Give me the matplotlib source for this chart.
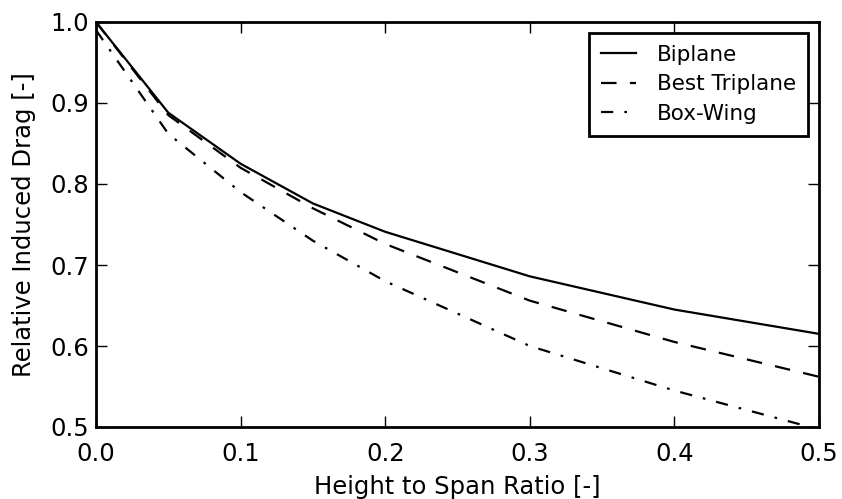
import matplotlib; matplotlib.use("Agg")
import matplotlib.pyplot as plt

ratio = [0.0, 0.05, 0.1, 0.15, 0.2, 0.3, 0.4, 0.5]
biplane = [1.0, 0.888, 0.825, 0.776, 0.741, 0.686, 0.645, 0.615]
triplane = [1.0, 0.885, 0.820, 0.770, 0.726, 0.656, 0.605, 0.562]
boxwing = [0.99, 0.862, 0.790, 0.730, 0.680, 0.600, 0.545, 0.497]

plt.rcParams["font.family"] = ["DejaVu Sans"]
fig = plt.figure(figsize=(8.42, 4.99), dpi=100)
ax = fig.add_axes([96/842, 1 - 427/499, (819-96)/842, (427-22)/499])

ax.plot(ratio, biplane, "k-", lw=1.6, label="Biplane")
ax.plot(ratio, triplane, "k--", lw=1.6, label="Best Triplane", dashes=(7, 6))
ax.plot(ratio, boxwing, "k-.", lw=1.6, label="Box-Wing", dashes=(5.5, 5, 1.2, 5))

ax.set_xlim(0, 0.5)
ax.set_ylim(0.5, 1.0)
ax.set_xticks([0.0, 0.1, 0.2, 0.3, 0.4, 0.5])
ax.set_yticks([0.5, 0.6, 0.7, 0.8, 0.9, 1.0])
ax.tick_params(direction="in", top=True, right=True, length=8, width=1, labelsize=17.5)
ax.tick_params(axis="x", pad=11)
ax.tick_params(axis="y", pad=5)
for s in ax.spines.values():
    s.set_linewidth(2)
ax.set_xlabel("Height to Span Ratio [-]", fontsize=17.5, labelpad=6)
ax.set_ylabel("Relative Induced Drag [-]", fontsize=17.5, labelpad=10)

leg = ax.legend(loc="upper right", fontsize=15.5, fancybox=False, framealpha=1,
                edgecolor="black", borderaxespad=0.5, borderpad=0.55,
                handlelength=1.6, labelspacing=0.45, handletextpad=1.0)
leg.get_frame().set_linewidth(2)

fig.savefig("out.png", dpi=100)
